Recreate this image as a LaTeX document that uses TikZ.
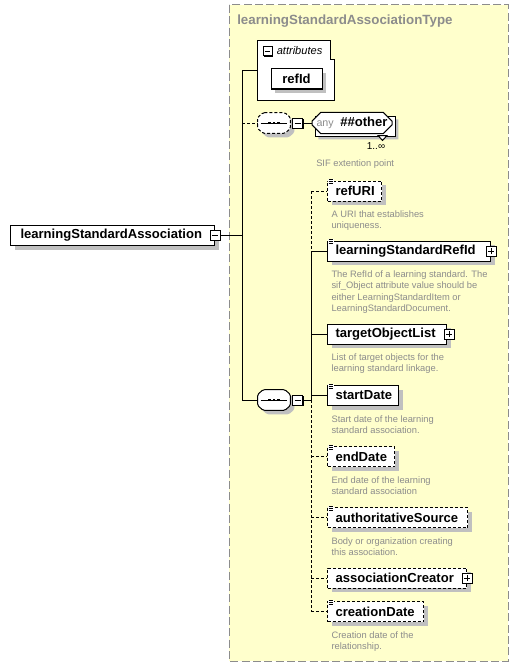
\documentclass[tikz,border=0pt]{standalone}
\usepackage{fontspec}
\setmainfont{Liberation Sans}
\usepackage{tikz}
\usetikzlibrary{positioning,shapes.misc,shadows}
\definecolor{typefill}{HTML}{FFFFCC}
\definecolor{typeline}{HTML}{8C8C8C}
\definecolor{shade}{HTML}{C0C0C0}
\definecolor{doctext}{HTML}{8C8C8C}

\tikzset{
  conn/.style={line width=0.75pt},
  optconn/.style={conn,dash pattern=on 2.25pt off 1.5pt},
  boxshadow/.style={general shadow={fill=shade,shadow xshift=3pt,shadow yshift=-3pt}},
  elem/.style={rectangle,draw=black,line width=0.75pt,fill=white,boxshadow,minimum height=15pt,inner xsep=6pt,inner ysep=0pt,align=left,anchor=west,font=\fontsize{9.8}{12}\selectfont\bfseries,execute at begin node={\hyphenpenalty=10000\relax}},
  optelem/.style={elem,dash pattern=on 2.25pt off 1.5pt},
  docnote/.style={inner sep=0pt,align=left,text=doctext,font=\fontsize{7}{8.5}\selectfont},
  seqbox/.style={rectangle,minimum width=24pt,minimum height=15pt,inner sep=0pt},
  seqline/.style={line width=0.75pt,fill=white,rounded corners=1pt,boxshadow},
  anybox/.style={chamfered rectangle,chamfered rectangle xsep=3pt,draw=black,line width=0.75pt,fill=white,minimum width=60pt,minimum height=15pt,inner sep=0pt,font=\fontsize{9.8}{12}\selectfont\bfseries},
  expander/.style={rectangle,draw=black,line width=0.75pt,fill=white,minimum size=7.5pt,inner sep=0pt,general shadow={fill=black,shadow xshift=0.6pt,shadow yshift=-0.6pt}},
  minusbox/.style={expander,path picture={\draw[line width=0.75pt] ([xshift=1.4pt]path picture bounding box.west) -- ([xshift=-1.4pt]path picture bounding box.east);}},
  plusbox/.style={expander,path picture={\draw[line width=0.75pt] ([xshift=1.4pt]path picture bounding box.west) -- ([xshift=-1.4pt]path picture bounding box.east);
      \draw[line width=0.75pt] ([yshift=1.4pt]path picture bounding box.south) -- ([yshift=-1.4pt]path picture bounding box.north);}}
}

% outline and glyph of a sequence compositor drawn round node #1
\newcommand{\seqglyph}[2]{%
  \draw[seqline,#2] ([xshift=4pt]#1.north west) -- ([xshift=-4pt]#1.north east) -- ([yshift=-3.5pt]#1.north east)
    -- ([yshift=3.5pt]#1.south east) -- ([xshift=-4pt]#1.south east) -- ([xshift=4pt]#1.south west)
    -- ([yshift=3.5pt]#1.south west) -- ([yshift=-3.5pt]#1.north west) -- cycle;
  \draw[line width=0.75pt] ([xshift=2.2pt]#1.west) -- ([xshift=-2.2pt]#1.east);
  \foreach \dx in {-3.4pt,0pt,3.4pt}
    \fill ([xshift=\dx]#1.center) +(-1.1pt,-1.1pt) rectangle +(1.1pt,1.1pt);
}

\begin{document}
\begin{tikzpicture}[x=0.75pt,y=-0.75pt]
\useasboundingbox (0,0) rectangle (519,667);
\fill[white] (0,0) rectangle (519,667);

% complex type frame
\draw[typeline,fill=typefill,line width=0.75pt,dash pattern=on 6pt off 2.5pt] (229,5) rectangle (508,661);
\node[anchor=base west,inner sep=0pt,text=typeline,font=\fontsize{10}{12}\selectfont\bfseries] (typeTitle) at (237,25) {learningStandardAssociationType};

% root element
\node[elem,inner xsep=7.5pt,text width=138pt] (lsAssoc) at (10,235.5) {learningStandardAssociation};
\node[minusbox] (lsAssocMinus) at (lsAssoc.east) {};

% attributes
\draw[conn,fill=white] (257,41) -| (330,60) -| (334,100) -- (257,100) -- cycle;
\node[minusbox,minimum size=6.75pt] (attrsMinus) at (267.5,51.5) {};
\node[anchor=base west,inner sep=0pt,font=\fontsize{8.3}{10}\selectfont\itshape] (attrsLabel) at (276.5,54.5) {attributes};
\node[elem,anchor=center,align=center,text width=26.25pt] (refId) at (296.5,79) {refId};
\coordinate (attrsIn) at (257,71);

% trunk
\coordinate (jTop) at (242,71);
\coordinate (jBot) at (242,400);
\draw[conn] (jTop) -- (jBot);
\draw[conn] (lsAssocMinus.east) -- (lsAssocMinus.east -| jTop);
\draw[conn] (jTop) -- (attrsIn);

% any ##other
\node[seqbox] (seqOther) at (274,123) {};
\seqglyph{seqOther}{dash pattern=on 2.25pt off 1.5pt}
\node[minusbox,right=1.5pt of seqOther] (seqOtherMinus) {};
\draw[optconn] (seqOther.west -| jTop) -- (seqOther.west);
\node[anybox,general shadow={fill=shade,shadow xshift=2.5pt,shadow yshift=-2.5pt}] (anyStack) at (355,126) {};
\draw[conn,fill=white] (378,135.5) -- (387,135.5) -- (382.5,140.5) -- cycle;
\node[anybox] (anyOther) at (352,123) {\textcolor{doctext}{\fontsize{8}{10}\selectfont\mdseries any}\enspace\#\#other};
\draw[conn] (seqOtherMinus.east) -- (anyOther.west);
\node[inner sep=0pt,font=\fontsize{7.5}{9}\selectfont] (anyOccurs) at (376,146) {1..∞};
\node[docnote,anchor=base west] (anyDoc) at (316,166) {SIF extention point};

% main sequence
\node[seqbox] (seqMain) at (274,400) {};
\seqglyph{seqMain}{}
\node[minusbox,right=1.5pt of seqMain] (seqMainMinus) {};
\draw[conn] (jBot) -- (seqMain.west);

% children
\node[optelem,text width=28.5pt] (refURI) at (327,191) {refURI};
\node[elem,text width=110.25pt] (lsRefId) at (327,251) {learningStandardRefId};
\node[plusbox] (lsRefIdPlus) at (lsRefId.east) {};
\node[elem,text width=77.25pt] (targetList) at (327,334) {targetObjectList};
\node[plusbox] (targetListPlus) at ([xshift=1.5pt]targetList.east) {};
\node[elem,text width=41.25pt] (startDate) at (327,395.5) {startDate};
\node[optelem,text width=38.25pt] (endDate) at (327,456.7) {endDate};
\node[optelem,text width=93pt] (authSource) at (327,517.7) {authoritativeSource};
\node[optelem,text width=92.25pt] (assocCreator) at (327,578) {associationCreator};
\node[plusbox] (assocCreatorPlus) at (assocCreator.east) {};
\node[optelem,text width=60pt] (creationDate) at (327,611.5) {creationDate};

% documentation icons
\foreach \n in {refURI,lsRefId,startDate,endDate,authSource,creationDate}{
  \fill[white] ([xshift=0.8pt,yshift=0.9pt]\n.north west) rectangle ([xshift=5.2pt,yshift=-3.6pt]\n.north west);
  \foreach \dy in {-0.6pt,0.9pt,2.4pt}
    \draw[line width=0.45pt] ([xshift=1.2pt,yshift=-\dy]\n.north west) -- ++(3.6pt,0pt);
}

% documentation
\node[docnote,below right=6.8pt and 3.2pt of refURI.south west] (refURIDoc) {A URI that establishes\\uniqueness.};
\node[docnote,below right=6.8pt and 3.2pt of lsRefId.south west] (lsRefIdDoc) {The RefId of a learning standard. The\\sif\_Object attribute value should be\\either LearningStandardItem or\\LearningStandardDocument.};
\node[docnote,below right=6.8pt and 3.2pt of targetList.south west] (targetListDoc) {List of target objects for the\\learning standard linkage.};
\node[docnote,below right=6.8pt and 3.2pt of startDate.south west] (startDateDoc) {Start date of the learning\\standard association.};
\node[docnote,below right=6.8pt and 3.2pt of endDate.south west] (endDateDoc) {End date of the learning\\standard association};
\node[docnote,below right=6.8pt and 3.2pt of authSource.south west] (authSourceDoc) {Body or organization creating\\this association.};
\node[docnote,below right=6.8pt and 3.2pt of creationDate.south west] (creationDateDoc) {Creation date of the\\relationship.};

% child bus
\coordinate (bus) at (311,0);
\draw[conn] (seqMainMinus.east) -- (seqMainMinus.east -| bus);
\draw[optconn] (refURI.west -| bus) -- (lsRefId.west -| bus);
\draw[conn] (lsRefId.west -| bus) -- (seqMainMinus.east -| bus);
\draw[optconn] (seqMainMinus.east -| bus) -- (creationDate.west -| bus);
\draw[optconn] (refURI.west -| bus) -- (refURI.west);
\draw[conn] (lsRefId.west -| bus) -- (lsRefId.west);
\draw[conn] (targetList.west -| bus) -- (targetList.west);
\draw[conn] (startDate.west -| bus) -- (startDate.west);
\draw[optconn] (endDate.west -| bus) -- (endDate.west);
\draw[optconn] (authSource.west -| bus) -- (authSource.west);
\draw[optconn] (assocCreator.west -| bus) -- (assocCreator.west);
\draw[optconn] (creationDate.west -| bus) -- (creationDate.west);
\end{tikzpicture}
\end{document}
